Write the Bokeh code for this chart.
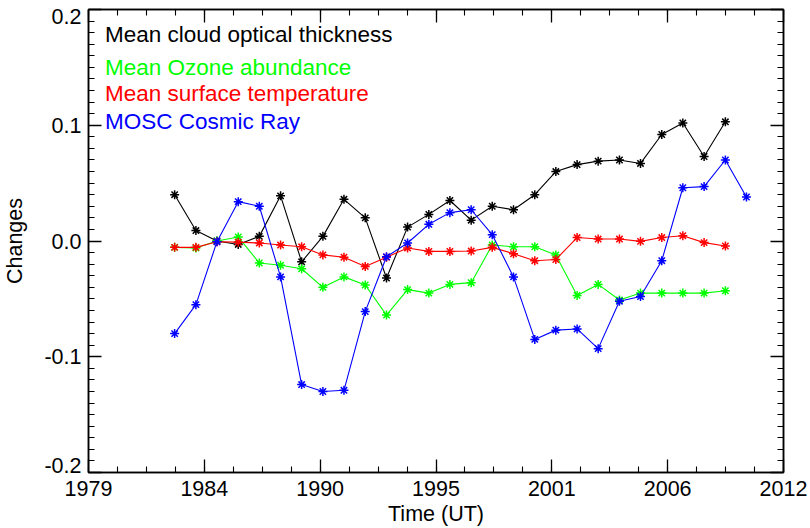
from bokeh.plotting import figure
from bokeh.models import (Range1d, FixedTicker, LinearAxis, CustomJSTickFormatter,
                          Label, ColumnDataSource)
from bokeh.embed import file_html
from bokeh.resources import INLINE

# ---------------- data ----------------
years = [1983.09, 1984.10, 1985.10, 1986.11, 1987.11, 1988.12, 1989.12, 1990.13,
         1991.13, 1992.14, 1993.15, 1994.15, 1995.16, 1996.16, 1997.17, 1998.17,
         1999.18, 2000.19, 2001.19, 2002.20, 2003.20, 2004.21, 2005.21, 2006.22,
         2007.22, 2008.23, 2009.24, 2010.24]

cloud = [0.040, 0.009, 0.000, -0.003, 0.004, 0.039, -0.018, 0.004, 0.036, 0.020,
         -0.032, 0.012, 0.023, 0.035, 0.018, 0.030, 0.027, 0.040, 0.060, 0.066,
         0.069, 0.070, 0.067, 0.092, 0.102, 0.073, 0.103]

ozone = [-0.0055, -0.006, 0.000, 0.0035, -0.019, -0.021, -0.024, -0.040, -0.031,
         -0.038, -0.064, -0.042, -0.045, -0.0375, -0.036, -0.0035, -0.005, -0.005,
         -0.012, -0.047, -0.0375, -0.051, -0.045, -0.045, -0.045, -0.045, -0.043]

temperature = [-0.0055, -0.0055, -0.0006, -0.001, -0.0017, -0.0035, -0.005, -0.012,
               -0.014, -0.022, -0.014, -0.006, -0.009, -0.009, -0.0087, -0.0055,
               -0.011, -0.017, -0.016, 0.003, 0.0017, 0.0017, -0.0003, 0.003,
               0.0046, -0.0014, -0.0043]

cosmic = [-0.080, -0.055, -0.0006, 0.034, 0.030, -0.031, -0.124, -0.130, -0.129,
          -0.061, -0.0136, -0.0017, 0.0144, 0.0245, 0.027, 0.0055, -0.031, -0.085,
          -0.077, -0.076, -0.093, -0.052, -0.048, -0.017, 0.046, 0.047, 0.070, 0.038]

x_ticks = [1979, 1984.5, 1990, 1995.5, 2001, 2006.5, 2012]
x_minor = [1979 + 1.375 * k for k in range(25)]
y_ticks = [-0.2, -0.1, 0.0, 0.1, 0.2]
y_minor = [round(-0.2 + 0.01 * k, 2) for k in range(41)]

labels = ["Mean cloud optical thickness", "Mean Ozone abundance",
          "Mean surface temperature", "MOSC Cosmic Ray"]

# ---------------- styling ----------------
FONT = "Liberation Sans"
TICK_FS = "21.5px"
colors = {"cloud": "#000000", "ozone": "#00ff00", "temp": "#ff0000", "cosmic": "#0000ff"}

p = figure(width=810, height=528, output_backend="svg", toolbar_location=None,
           x_range=Range1d(1979, 2012), y_range=Range1d(-0.2, 0.2),
           min_border_left=88, min_border_right=27, min_border_top=9,
           min_border_bottom=56, x_axis_label="Time (UT)")
p.grid.visible = False
p.outline_line_color = "black"
p.outline_line_width = 1.5
p.background_fill_color = "white"
p.border_fill_color = "white"

xfmt = CustomJSTickFormatter(code="return Math.floor(tick + 1e-9).toFixed(0);")
blank = CustomJSTickFormatter(code="return '';")
yfmt = CustomJSTickFormatter(code="return (Math.round(tick * 10) / 10).toFixed(1);")


def style_axis(ax, show_labels):
    ax.axis_line_color = "black"
    ax.axis_line_width = 1.5
    ax.major_tick_in = 13
    ax.major_tick_out = 0
    ax.minor_tick_in = 6
    ax.minor_tick_out = 0
    ax.major_tick_line_width = 1.3
    ax.minor_tick_line_width = 1.1
    ax.major_tick_line_color = "black"
    ax.minor_tick_line_color = "black"
    ax.major_label_text_font = FONT
    ax.major_label_text_color = "black"
    if show_labels:
        ax.major_label_text_font_size = TICK_FS
    else:
        ax.major_label_text_font_size = "1px"
        ax.major_label_standoff = 0


xax = p.xaxis[0]
xax.ticker = FixedTicker(ticks=x_ticks, minor_ticks=x_minor)
xax.formatter = xfmt
style_axis(xax, True)
xax.major_label_standoff = 8
xax.axis_label_standoff = 3
xax.axis_label_text_font = FONT
xax.axis_label_text_font_size = TICK_FS
xax.axis_label_text_font_style = "normal"
xax.axis_label_text_color = "black"

# inner left axis: line and ticks only
yax = p.yaxis[0]
yax.ticker = FixedTicker(ticks=y_ticks, minor_ticks=y_minor)
yax.formatter = blank
style_axis(yax, False)

# outer left axis: tick labels only; the two end labels sit just inside the span
end_shift = 0.006
label_pos = [y_ticks[0] + end_shift] + y_ticks[1:-1] + [y_ticks[-1] - end_shift]
ylab = LinearAxis(ticker=FixedTicker(ticks=label_pos, minor_ticks=[]), formatter=yfmt,
                  axis_label="Changes")
ylab.axis_line_color = None
ylab.major_tick_line_color = None
ylab.minor_tick_line_color = None
ylab.major_tick_in = 0
ylab.major_tick_out = 0
ylab.minor_tick_in = 0
ylab.minor_tick_out = 0
ylab.major_label_standoff = 7
ylab.major_label_text_font = FONT
ylab.major_label_text_font_size = TICK_FS
ylab.major_label_text_color = "black"
ylab.axis_label_standoff = 14
ylab.axis_label_text_font = FONT
ylab.axis_label_text_font_size = TICK_FS
ylab.axis_label_text_font_style = "normal"
ylab.axis_label_text_color = "black"
p.add_layout(ylab, "left")

top = LinearAxis(ticker=FixedTicker(ticks=x_ticks, minor_ticks=x_minor), formatter=blank)
style_axis(top, False)
p.add_layout(top, "above")
right = LinearAxis(ticker=FixedTicker(ticks=y_ticks, minor_ticks=y_minor), formatter=blank)
style_axis(right, False)
p.add_layout(right, "right")

# ---------------- series ----------------
series = [
    (years[:len(cloud)], cloud, colors["cloud"]),
    (years[:len(ozone)], ozone, colors["ozone"]),
    (years[:len(temperature)], temperature, colors["temp"]),
    (years[:len(cosmic)], cosmic, colors["cosmic"]),
]
for xs, ys, c in series:
    src = ColumnDataSource(dict(x=xs, y=ys))
    p.line("x", "y", source=src, line_color=c, line_width=1.1)
    p.scatter("x", "y", source=src, marker="asterisk", size=9, line_color=c,
              line_width=1.5)

# ---------------- in-plot legend texts ----------------
label_x = 1979.78
label_y = [0.1785, 0.1503, 0.1275, 0.1036]
label_c = [colors["cloud"], colors["ozone"], colors["temp"], colors["cosmic"]]
for t, ly, c in zip(labels, label_y, label_c):
    p.add_layout(Label(x=label_x, y=ly, text=t, text_color=c, text_font=FONT,
                       text_font_size="22.5px", text_baseline="alphabetic",
                       text_align="left"))

open("out.html", "w").write(file_html(p, INLINE))
